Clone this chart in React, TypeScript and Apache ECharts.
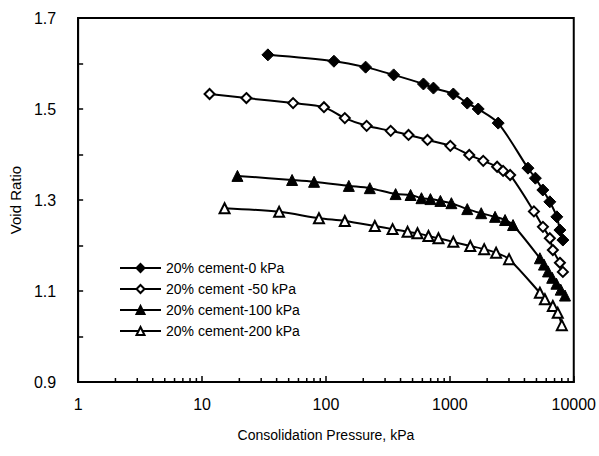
import React, { useEffect, useRef } from "react";
import * as echarts from "echarts";

const xTickLabels = ["1", "10", "100", "1000", "10000"];
const minorTickValues = [2, 3, 4, 5, 6, 7, 8, 9, 20, 30, 40, 50, 60, 70, 80, 90, 200, 300, 400, 500, 600, 700, 800, 900, 2000, 3000, 4000, 5000, 6000, 7000, 8000, 9000];

const seriesNames = ["20% cement-0 kPa", "20% cement -50 kPa", "20% cement-100 kPa", "20% cement-200 kPa"];

const p0 = [34, 116, 209, 352, 612, 737, 1067, 1382, 1694, 2455, 4270, 4900, 5630, 6410, 7300, 7730, 8170];
const e0 = [1.619, 1.605, 1.592, 1.575, 1.555, 1.546, 1.533, 1.513, 1.5, 1.469, 1.37, 1.348, 1.322, 1.296, 1.263, 1.234, 1.212];

const p50 = [11.5, 22.8, 54.3, 96.4, 142, 213, 333, 464, 660, 1009, 1434, 1860, 2408, 2690, 3065, 4770, 5640, 6410, 6780, 7730, 8170];
const e50 = [1.533, 1.524, 1.513, 1.504, 1.48, 1.463, 1.452, 1.443, 1.432, 1.419, 1.399, 1.386, 1.373, 1.364, 1.355, 1.275, 1.241, 1.216, 1.19, 1.162, 1.142];

const p100 = [19.3, 53.3, 80.2, 153, 226, 365, 482, 590, 697, 839, 1029, 1382, 1791, 2318, 2790, 3236, 5330, 5750, 6200, 6700, 7250, 7850, 8500];
const e100 = [1.353, 1.344, 1.34, 1.331, 1.326, 1.313, 1.311, 1.304, 1.302, 1.298, 1.293, 1.28, 1.271, 1.263, 1.256, 1.245, 1.172, 1.158, 1.143, 1.129, 1.116, 1.103, 1.09];

const p200 = [15.2, 41.9, 87.8, 142, 248, 345, 456, 548, 672, 809, 1067, 1462, 1893, 2362, 3005, 5330, 5850, 6780, 7430, 8010];
const e200 = [1.282, 1.274, 1.26, 1.254, 1.243, 1.236, 1.23, 1.227, 1.221, 1.216, 1.208, 1.199, 1.192, 1.184, 1.17, 1.096, 1.082, 1.067, 1.052, 1.025];

const FONT = "'Liberation Sans', Arial, sans-serif";

function zip(a: number[], b: number[]) {
  return a.map((v, i) => [v, b[i]]);
}

export default function App() {
  const ref = useRef<HTMLDivElement>(null);
  useEffect(() => {
    document.body.style.margin = "0";
    if (!ref.current) return;
    const chart = echarts.init(ref.current, undefined, { renderer: "svg" });
    const mk = (name: string, xs: number[], ys: number[], symbol: string, filled: boolean, size: number) => ({
      name,
      type: "line",
      data: zip(xs, ys),
      smooth: 0.3,
      symbol,
      symbolSize: size,
      showSymbol: true,
      lineStyle: { color: "#000", width: 2 },
      itemStyle: filled
        ? { color: "#000", borderColor: "#000", borderWidth: 1 }
        : { color: "#fff", borderColor: "#000", borderWidth: 2 },
      z: 3,
    });
    chart.setOption({
      animation: false,
      backgroundColor: "#fff",
      textStyle: { fontFamily: FONT },
      grid: { left: 76, right: 25, top: 18, bottom: 74, show: true, borderColor: "#000", borderWidth: 2, containLabel: false },
      legend: {
        data: seriesNames,
        orient: "vertical",
        left: 114,
        top: 256,
        itemWidth: 41,
        itemHeight: 10,
        itemGap: 7,
        textStyle: { fontFamily: FONT, fontSize: 14, color: "#000" },
      },
      xAxis: {
        type: "log",
        logBase: 10,
        min: 1,
        max: 10000,
        splitNumber: 4,
        name: "Consolidation Pressure, kPa",
        nameLocation: "middle",
        nameGap: 46,
        nameTextStyle: { fontFamily: FONT, fontSize: 14, color: "#000" },
        axisLine: { lineStyle: { color: "#000", width: 2 } },
        axisTick: { inside: true, length: 6, lineStyle: { color: "#000", width: 1.5 } },
        axisLabel: {
          fontFamily: FONT,
          fontSize: 16,
          color: "#000",
          margin: 14,
          formatter: (v: number) => {
            const s = String(Math.round(v));
            return xTickLabels.includes(s) ? s : "";
          },
        },
        splitLine: { show: false },
      },
      yAxis: {
        type: "value",
        min: 0.9,
        max: 1.7,
        interval: 0.1,
        name: "Void Ratio",
        nameLocation: "middle",
        nameGap: 42,
        nameRotate: 90,
        nameTextStyle: { fontFamily: FONT, fontSize: 15, color: "#000" },
        axisLine: { lineStyle: { color: "#000", width: 2 } },
        axisTick: { inside: true, length: 5, lineStyle: { color: "#000", width: 1.5 } },
        axisLabel: {
          fontFamily: FONT,
          fontSize: 16,
          color: "#000",
          margin: 22,
          formatter: (v: number) => (Math.round(v * 10) % 2 === 1 ? v.toFixed(1) : ""),
        },
        splitLine: { show: false },
      },
      series: [
        mk(seriesNames[0], p0, e0, "diamond", true, 12),
        mk(seriesNames[1], p50, e50, "diamond", false, 10),
        mk(seriesNames[2], p100, e100, "triangle", true, 11),
        mk(seriesNames[3], p200, e200, "triangle", false, 10),
        {
          type: "custom",
          name: "minorTicks",
          silent: true,
          clip: false,
          z: 5,
          data: minorTickValues.map((v) => [v, 0.9]),
          renderItem: (params: any, api: any) => {
            const pt = api.coord([api.value(0), api.value(1)]);
            return {
              type: "line",
              shape: { x1: pt[0], y1: pt[1], x2: pt[0], y2: pt[1] - 4 },
              style: { stroke: "#000", lineWidth: 1.5 },
            };
          },
        },
      ],
    });
    return () => chart.dispose();
  }, []);
  return <div ref={ref} style={{ width: 599, height: 456 }} />;
}
